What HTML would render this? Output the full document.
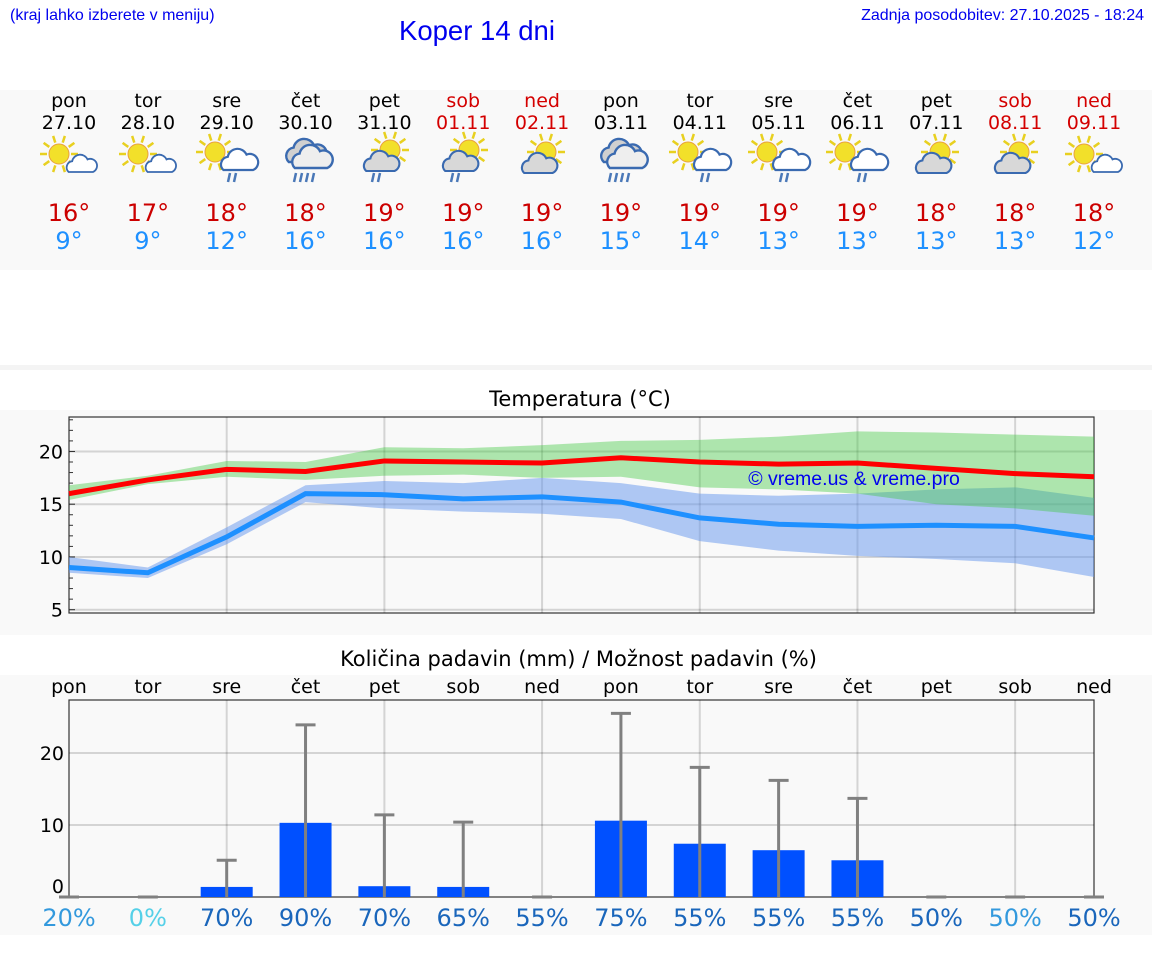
<!DOCTYPE html>
<html><head><meta charset="utf-8">
<style>
body{margin:0;width:1152px;height:975px;background:#fff;font-family:"DejaVu Sans","Liberation Sans",sans-serif;position:relative;overflow:hidden}
.abs{position:absolute}
.band{position:absolute;left:0;width:1152px;background:#f9f9f9}
.day{position:absolute;width:78px;text-align:center;font-size:19px;line-height:22px}
.day svg{overflow:visible}
</style></head><body>
<div class="abs" style="left:10px;top:7px;font-family:'Liberation Sans',sans-serif;font-size:16px;color:#0000ee">(kraj lahko izberete v meniju)</div>
<div class="abs" style="left:399px;top:15px;font-family:'Liberation Sans',sans-serif;font-size:27.5px;color:#0000ee">Koper 14 dni</div>
<div class="abs" style="right:8px;top:7px;font-family:'Liberation Sans',sans-serif;font-size:16px;color:#0000ee">Zadnja posodobitev: 27.10.2025 - 18:24</div>
<div class="band" style="top:90px;height:180px"></div>
<div class="band" style="top:365px;height:5px;background:#f4f4f4"></div>
<div class="band" style="top:410px;height:225px"></div>
<div class="band" style="top:675px;height:260px"></div>
<div id="days"></div>
<div class="abs" style="left:0;width:1160px;top:387px;text-align:center;font-size:21px">Temperatura (°C)</div>
<div class="abs" style="left:0;width:1157px;top:647px;text-align:center;font-size:21px">Količina padavin (mm) / Možnost padavin (%)</div>
<svg id="chart" class="abs" style="left:0;top:0" width="1152" height="975"></svg>
<script>
const dayNames=["pon","tor","sre","čet","pet","sob","ned","pon","tor","sre","čet","pet","sob","ned"];
const dates=["27.10","28.10","29.10","30.10","31.10","01.11","02.11","03.11","04.11","05.11","06.11","07.11","08.11","09.11"];
const weekend=[0,0,0,0,0,1,1,0,0,0,0,0,1,1];
const iconTypes=["sc","sc","scr","rr","sgr","sgr","sg","rr","scr","scr","scr","sg","sg","sc"];
const tMax=[16.0,17.3,18.3,18.1,19.1,19.0,18.9,19.4,19.0,18.8,18.9,18.4,17.9,17.6];
const tMin=[9.0,8.5,11.9,16.0,15.9,15.5,15.7,15.2,13.7,13.1,12.9,13.0,12.9,11.8];
const maxLo=[15.4,16.9,17.6,17.3,17.7,17.8,17.5,17.6,16.6,16.4,16.0,15.0,14.6,13.9];
const maxHi=[16.8,17.7,19.1,19.0,20.4,20.3,20.6,21.0,21.1,21.4,21.9,21.8,21.6,21.4];
const minLo=[8.5,8.0,11.2,15.2,14.6,14.3,14.1,13.6,11.5,10.6,10.1,9.8,9.4,8.1];
const minHi=[10.0,9.0,12.8,16.8,17.2,17.0,17.5,17.0,16.0,15.8,16.0,16.4,16.6,15.6];
const hiLabels=[16,17,18,18,19,19,19,19,19,19,19,18,18,18];
const loLabels=[9,9,12,16,16,16,16,15,14,13,13,13,13,12];
const rain=[0,0,1.4,10.3,1.5,1.4,0,10.6,7.4,6.5,5.1,0,0,0];
const rainMax=[0,0,5.1,23.9,11.4,10.4,0,25.5,18.0,16.2,13.7,0,0,0];
const chance=[20,0,70,90,70,65,55,75,55,55,55,50,50,50];
const tTicks=[5,10,15,20];
const pTicks=[0,10,20];
const NS="http://www.w3.org/2000/svg";
const X0=69,X1=1094;
const x=i=>X0+i*(X1-X0)/13;
const ty=v=>609.7-(v-5)*10.55;
const py=v=>897-v*7.2;
const svg=document.getElementById('chart');
function el(t,a,p){const e=document.createElementNS(NS,t);for(const k in a)e.setAttribute(k,a[k]);(p||svg).appendChild(e);return e;}

const days=document.getElementById('days');
function icon(type){
  let s='<svg width="56" height="50" viewBox="0 0 56 50">';
  const sun=(cx,cy)=>{let r='';for(let k=0;k<10;k++){const a=k*Math.PI/5;r+=`<line x1="${cx+Math.cos(a)*12}" y1="${cy+Math.sin(a)*12}" x2="${cx+Math.cos(a)*19}" y2="${cy+Math.sin(a)*19}" stroke="#e8d020" stroke-width="2.5"/>`;}return r+`<circle cx="${cx}" cy="${cy}" r="10" fill="#f2e02a" stroke="#e8a040" stroke-width="1"/>`;};
  const cloud=(ox,oy,sc,fill)=>`<g transform="translate(${ox},${oy}) scale(${sc})"><path d="M4 20 a7 7 0 0 1 4-12 a9 9 0 0 1 17-2 a7 7 0 0 1 6 14 z" fill="${fill}" stroke="#3a6ab0" stroke-width="2"/></g>`;
  const drops=(ox,n)=>{let r='';for(let k=0;k<n;k++)r+=`<line x1="${ox+k*6+2}" y1="37" x2="${ox+k*6}" y2="46" stroke="#4a78b8" stroke-width="2.5"/>`;return r;};
  if(type=='sc'){s+=sun(18,18)+cloud(24,18,0.9,'#fff');}
  else if(type=='scr'){s+=sun(16,16)+cloud(20,12,1.1,'#fff')+drops(29,2);}
  else if(type=='sg'){s+=sun(32,16)+cloud(6,16,1.05,'#d8d8d8');}
  else if(type=='sgr'){s+=sun(34,14)+cloud(6,14,1.05,'#d8d8d8')+drops(16,2);}
  else {s+=cloud(6,2,1.2,'#d0d0d0')+cloud(12,8,1.2,'#eee')+drops(16,4);}
  return s+'</svg>';
}
for(let i=0;i<14;i++){
  const d=document.createElement('div');
  d.className='day';
  
  
  d.style.left=(x(i)-39)+'px';d.style.top='90px';
  const c=weekend[i]?'#d40000':'#000';
  d.innerHTML=`<div style="color:${c}">${dayNames[i]}</div><div style="color:${c}">${dates[i]}</div><div style="height:52px;margin-top:2px;display:flex;justify-content:center">${icon(iconTypes[i])}</div><div style="font-size:24px;line-height:28px;color:#cc0000;margin-top:11px">${hiLabels[i]}°</div><div style="font-size:24px;line-height:28px;color:#1e90ff">${loLabels[i]}°</div>`;
  days.appendChild(d);
}

const tp=el('rect',{x:69,y:417,width:1025,height:196,fill:'#f9f9f9',stroke:'#333','stroke-width':1.2});


for(let v=5;v<=23;v++){el('line',{x1:69,x2:v%5==0?75:73,y1:ty(v),y2:ty(v),stroke:'#333','stroke-width':1});}
tTicks.forEach(v=>{
  el('line',{x1:69,x2:1094,y1:ty(v),y2:ty(v),stroke:'#000','stroke-opacity':0.15,'stroke-width':2});
  const t=el('text',{x:63,y:ty(v)+7,'text-anchor':'end','font-size':19,fill:'#000'});t.textContent=v;
  
  
});
for(let i=2;i<13;i+=2){el('line',{x1:x(i),x2:x(i),y1:417,y2:613,stroke:'#000','stroke-opacity':0.15,'stroke-width':2});}
function band(lo,hi,col,op,name){
  let d='M'+lo.map((v,i)=>x(i)+','+ty(v)).join('L');
  for(let i=13;i>=0;i--)d+='L'+x(i)+','+ty(hi[i]);
  const p=el('path',{d:d+'Z',fill:col,'fill-opacity':op});
  
  
}
band(minLo,minHi,'#6495ed',0.5,'min-temp-range');
band(maxLo,maxHi,'#3cc83c',0.4,'max-temp-range');
function line(arr,col,name){
  const p=el('polyline',{points:arr.map((v,i)=>x(i)+','+ty(v)).join(' '),fill:'none',stroke:col,'stroke-width':5});
  
  
}
line(tMin,'#1e90ff','min-temp-line');
line(tMax,'#ff0000','max-temp-line');
const wm=el('text',{x:854,y:485,'text-anchor':'middle','font-size':19.5,fill:'#0000ee','font-family':'Liberation Sans, sans-serif'});wm.textContent='© vreme.us & vreme.pro';



const pp=el('rect',{x:69,y:700,width:1025,height:197,fill:'#f9f9f9',stroke:'#333','stroke-width':1.2});


pTicks.forEach(v=>{
  if(v>0)el('line',{x1:69,x2:1094,y1:py(v),y2:py(v),stroke:'#000','stroke-opacity':0.15,'stroke-width':2});
  const t=el('text',{x:64,y:v==0?py(v)-4:py(v)+7,'text-anchor':'end','font-size':19,fill:'#000'});t.textContent=v;
  
  
});
for(let i=2;i<13;i+=2){el('line',{x1:x(i),x2:x(i),y1:700,y2:897,stroke:'#000','stroke-opacity':0.15,'stroke-width':2});}
const pctCol=v=>v==0?'#55d0e8':(v<=20?'#3399dd':'#1a66bb');
for(let i=0;i<14;i++){
  const dl=el('text',{x:x(i),y:693,'text-anchor':'middle','font-size':19,fill:'#000'});dl.textContent=dayNames[i];
  
  
  if(rain[i]>0){
    const b=el('rect',{x:x(i)-26,y:py(rain[i]),width:52,height:py(0)-py(rain[i]),fill:'#0050ff'});
    
    
  }
  const e=el('line',{x1:x(i),x2:x(i),y1:py(0),y2:py(rainMax[i]),stroke:'#808080','stroke-width':3});
  
  
  el('line',{x1:x(i)-10,x2:x(i)+10,y1:py(rainMax[i]),y2:py(rainMax[i]),stroke:'#808080','stroke-width':3});
  const col=(i==12)?'#3399dd':pctCol(chance[i]);
  const pt=el('text',{x:x(i),y:926,'text-anchor':'middle','font-size':24,fill:col});pt.textContent=chance[i]+'%';
  
  
}
</script>
</body></html>
